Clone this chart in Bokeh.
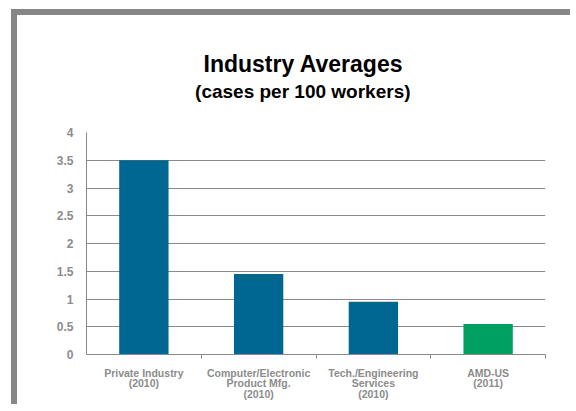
from bokeh.plotting import figure
from bokeh.models import LinearAxis, FixedTicker, CustomJSTickFormatter, Range1d
from bokeh.embed import file_html
from bokeh.resources import INLINE
import numpy as np

categories = ["Private Industry\n(2010)", "Computer/Electronic\nProduct Mfg.\n(2010)",
              "Tech./Engineering\nServices\n(2010)", "AMD-US\n(2011)"]
values = [3.5, 1.45, 0.95, 0.55]
colors = ["#006692", "#006692", "#006692", "#00A060"]
y_ticks = [0, 0.5, 1, 1.5, 2, 2.5, 3, 3.5, 4]
title_text = "Industry Averages"
subtitle_text = "(cases per 100 workers)"

FONT = "Liberation Sans"
GRAY = "#8a8a8a"
LABEL = "#8c8c8c"

n = len(categories)
xs = list(np.arange(n) + 0.5)

p = figure(width=559, height=395, output_backend="svg", toolbar_location=None,
           x_range=Range1d(0, n), y_range=Range1d(0, 4),
           min_border_left=69, min_border_right=31, min_border_top=117, min_border_bottom=56)
p.margin = (9, 0, 0, 11)
p.styles = {"border-top": "6px solid #878787", "border-left": "6px solid #878787"}

p.vbar(x=xs, top=values, width=0.43, color=colors, line_color=None)

p.title.text = title_text
p.title.text_font = FONT
p.title.text_font_size = "23px"
p.title.text_font_style = "bold"
p.title.text_color = "black"
p.title.align = "left"
p.title.offset = 117
p.title.standoff = 1

# subtitle as the label of a bare axis above the frame
sub_axis = LinearAxis(ticker=FixedTicker(ticks=[]), axis_label=subtitle_text + "\u00a0" * 5,
                      axis_line_color=None, major_tick_line_color=None, minor_tick_line_color=None,
                      major_tick_out=0, minor_tick_out=0, major_label_standoff=0,
                      axis_label_standoff=31, axis_label_text_font=FONT,
                      axis_label_text_font_size="19px", axis_label_text_font_style="bold",
                      axis_label_text_color="black")
p.add_layout(sub_axis, "above")

p.outline_line_color = None
p.background_fill_color = "white"

# y axis
p.yaxis.ticker = FixedTicker(ticks=y_ticks)
p.yaxis.formatter = CustomJSTickFormatter(code="return tick.toString()")
p.yaxis.major_tick_line_color = None
p.yaxis.minor_tick_line_color = None
p.yaxis.axis_line_color = GRAY
p.yaxis.major_label_text_font = FONT
p.yaxis.major_label_text_font_size = "12px"
p.yaxis.major_label_text_font_style = "bold"
p.yaxis.major_label_text_color = LABEL
p.yaxis.major_label_standoff = 7

# x axis
bottom_axis = p.below[0]
bottom_axis.ticker = FixedTicker(ticks=xs, minor_ticks=list(range(1, n + 1)))
bottom_axis.major_label_overrides = {float(x): c for x, c in zip(xs, categories)}
bottom_axis.major_tick_line_color = None
bottom_axis.minor_tick_line_color = GRAY
bottom_axis.minor_tick_in = 0
bottom_axis.minor_tick_out = 4
bottom_axis.axis_line_color = GRAY
bottom_axis.major_label_text_font = FONT
bottom_axis.major_label_text_font_size = "10.5px"
bottom_axis.major_label_text_font_style = "bold"
bottom_axis.major_label_text_color = LABEL
bottom_axis.major_label_text_line_height = 0.9
bottom_axis.major_label_standoff = 6

p.xgrid.grid_line_color = None
p.ygrid.grid_line_color = GRAY
p.ygrid.grid_line_width = 1

open("out.html", "w").write(file_html(p, INLINE))
